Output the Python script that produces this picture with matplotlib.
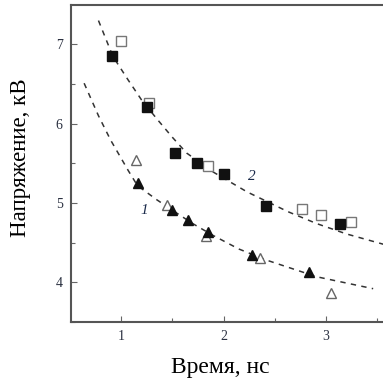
"""Напряжение пробоя от времени — две серии с аппроксимирующими кривыми."""
import matplotlib
matplotlib.use("Agg")
import matplotlib.pyplot as plt
from matplotlib.ticker import MultipleLocator

plt.rcParams["font.family"] = ["Liberation Serif", "DejaVu Serif"]

# серия 1 (треугольники)
t1_filled = [1.17, 1.50, 1.65, 1.85, 2.28, 2.83]
u1_filled = [5.25, 4.91, 4.78, 4.64, 4.35, 4.13]
t1_open = [1.15, 1.45, 1.83, 2.36, 3.05]
u1_open = [5.54, 4.97, 4.59, 4.31, 3.86]

# серия 2 (квадраты)
t2_filled = [0.915, 1.25, 1.53, 1.745, 2.00, 2.41, 3.14]
u2_filled = [6.85, 6.21, 5.625, 5.51, 5.365, 4.96, 4.73]
t2_open = [1.00, 1.27, 1.85, 2.77, 2.95, 3.24]
u2_open = [7.04, 6.26, 5.47, 4.93, 4.85, 4.76]

# пунктирные кривые
curve1_t = [0.64, 0.78, 0.90, 1.07, 1.16, 1.35, 1.50, 1.70, 1.90, 2.15, 2.42, 2.91, 3.46]
curve1_u = [6.51, 6.10, 5.79, 5.41, 5.22, 5.04, 4.91, 4.74, 4.59, 4.42, 4.28, 4.07, 3.92]
curve2_t = [0.78, 0.92, 1.07, 1.20, 1.35, 1.50, 1.64, 1.90, 2.23, 2.63, 2.91, 3.20, 3.56]
curve2_u = [7.30, 6.85, 6.55, 6.30, 6.06, 5.83, 5.63, 5.39, 5.14, 4.89, 4.74, 4.61, 4.48]

fig = plt.figure(figsize=(3.83, 3.83), dpi=100)
ax = fig.add_axes([71 / 383, 1 - 322 / 383, 1 - 71 / 383, 317 / 383])

dash = dict(color="#333333", lw=1.1, ls=(0, (3.5, 3.5)), zorder=1)
ax.plot(curve1_t, curve1_u, **dash)
ax.plot(curve2_t, curve2_u, **dash)

ax.plot(t2_open, u2_open, ls="none", marker="s", ms=6.5, mfc="white", mec="#777777", mew=1.0, zorder=2)
ax.plot(t2_filled, u2_filled, ls="none", marker="s", ms=6.5, mfc="#111111", mec="#111111", zorder=3)
ax.plot(t1_open, u1_open, ls="none", marker="^", ms=7.5, mfc="white", mec="#666666", mew=1.0, zorder=2)
ax.plot(t1_filled, u1_filled, ls="none", marker="^", ms=7.5, mfc="#111111", mec="#111111", zorder=3)

ax.text(1.23, 4.90, "1", fontsize=11, style="italic", color="#1a2a4a", ha="center", va="center")
ax.text(2.28, 5.33, "2", fontsize=11, style="italic", color="#1a2a4a", ha="center", va="center")

ax.set_xlim(0.512, 3.556)
ax.set_ylim(3.5, 7.496)
ax.xaxis.set_major_locator(MultipleLocator(1))
ax.xaxis.set_minor_locator(MultipleLocator(0.5))
ax.yaxis.set_major_locator(MultipleLocator(1))
ax.yaxis.set_minor_locator(MultipleLocator(0.5))
ax.tick_params(which="both", direction="in", colors="#666666", labelcolor="#2a3040",
               labelsize=10, top=False, right=False)
ax.tick_params(which="major", length=4, width=0.8, pad=6)
ax.tick_params(which="minor", length=3, width=0.8)

for s in ("left", "bottom", "top"):
    ax.spines[s].set_color("#555555")
    ax.spines[s].set_linewidth(1.5)
ax.spines["right"].set_visible(False)

ax.set_xlabel("Время, нс", fontsize=17, ha="center", va="center")
ax.set_ylabel("Напряжение, кВ", fontsize=16.5, ha="center", va="center")
ax.xaxis.set_label_coords(0.478, -0.142)
ax.yaxis.set_label_coords(-0.163, 0.519)

fig.savefig("out.png", dpi=100)
